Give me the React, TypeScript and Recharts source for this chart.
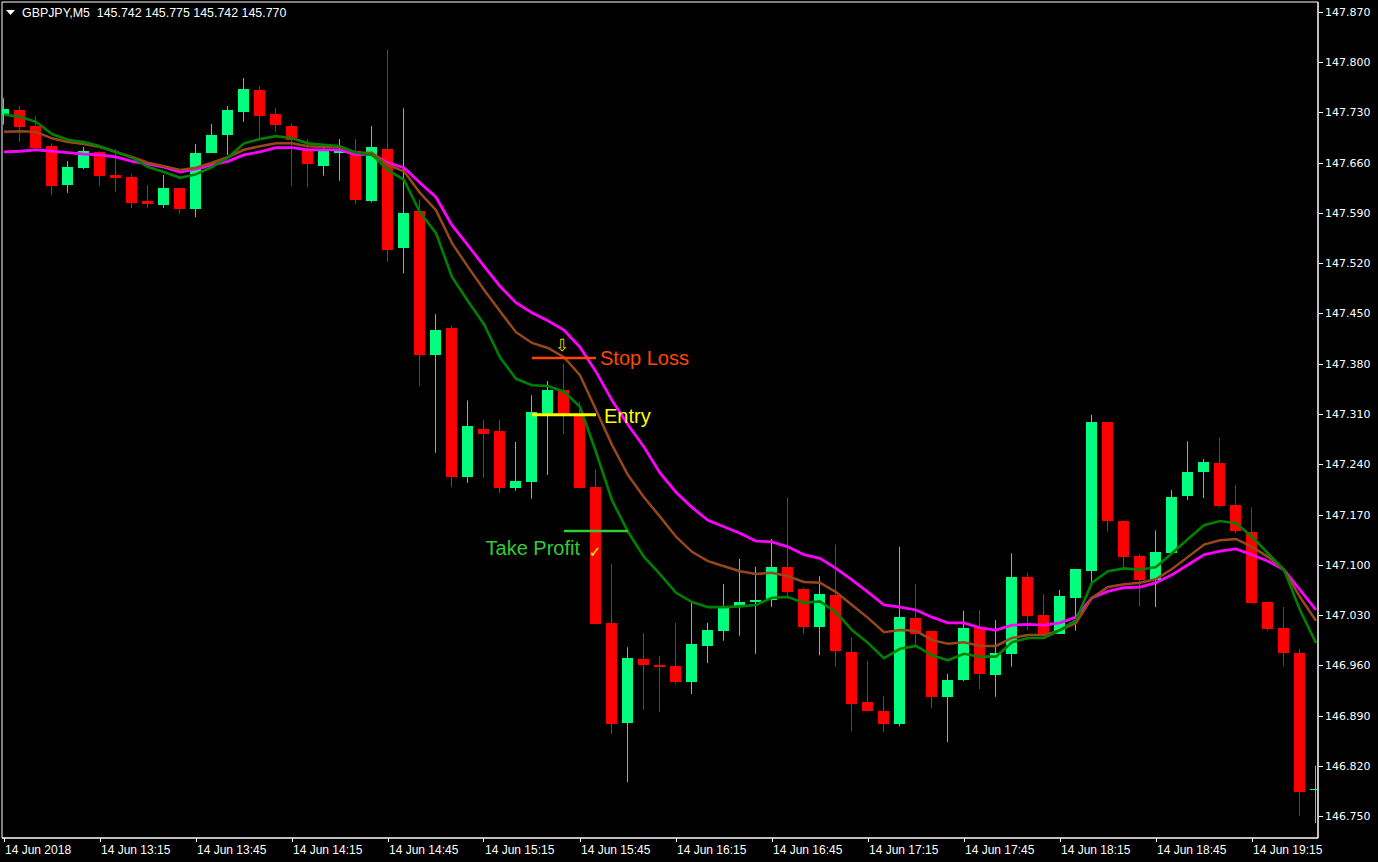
import React from "react";
import { ComposedChart, Bar, Line, XAxis, YAxis, ReferenceArea, ReferenceLine, ReferenceDot } from "recharts";

// M5 bars, 14 Jun 2018, starting 12:45
const opens = [
  147.727, 147.733, 147.711, 147.683, 147.629, 147.653, 147.675, 147.643, 147.640, 147.607,
  147.601, 147.625, 147.596, 147.674, 147.699, 147.731, 147.761, 147.728, 147.711, 147.679,
  147.655, 147.674, 147.676, 147.607, 147.679, 147.541, 147.593, 147.392, 147.430, 147.222,
  147.289, 147.286, 147.207, 147.215, 147.310, 147.343, 147.309, 147.208, 147.019, 146.880,
  146.969, 146.960, 146.959, 146.937, 146.987, 147.008, 147.041, 147.048, 147.051, 147.097,
  147.066, 147.013, 147.058, 146.978, 146.909, 146.896, 146.878, 147.026, 147.008, 146.916,
  146.939, 147.012, 146.946, 146.976, 147.083, 147.030, 147.004, 147.054, 147.091, 147.299,
  147.161, 147.112, 147.079, 147.116, 147.196, 147.229, 147.242, 147.183, 147.146, 147.048,
  147.012, 146.977, 146.786,
];
const highs = [
  147.750, 147.739, 147.725, 147.687, 147.662, 147.682, 147.676, 147.679, 147.644, 147.629,
  147.643, 147.625, 147.686, 147.714, 147.739, 147.778, 147.767, 147.736, 147.714, 147.693,
  147.681, 147.693, 147.693, 147.711, 147.818, 147.736, 147.609, 147.449, 147.433, 147.329,
  147.302, 147.302, 147.271, 147.336, 147.356, 147.380, 147.327, 147.233, 147.101, 146.985,
  147.005, 146.973, 147.019, 147.049, 147.019, 147.073, 147.108, 147.097, 147.136, 147.194,
  147.068, 147.084, 147.128, 146.999, 146.966, 146.917, 147.125, 147.073, 147.008, 146.948,
  147.036, 147.037, 147.023, 147.116, 147.089, 147.059, 147.065, 147.094, 147.309, 147.299,
  147.162, 147.115, 147.148, 147.204, 147.272, 147.247, 147.277, 147.211, 147.180, 147.048,
  147.041, 146.983, 146.820,
];
const lows = [
  147.713, 147.689, 147.681, 147.615, 147.618, 147.651, 147.628, 147.619, 147.597, 147.597,
  147.597, 147.589, 147.584, 147.674, 147.671, 147.717, 147.694, 147.703, 147.628, 147.626,
  147.642, 147.635, 147.602, 147.605, 147.522, 147.506, 147.349, 147.256, 147.208, 147.214,
  147.221, 147.200, 147.203, 147.192, 147.225, 147.282, 147.206, 147.017, 146.864, 146.797,
  146.898, 146.895, 146.934, 146.920, 146.963, 146.994, 147.001, 146.976, 147.041, 147.055,
  147.004, 146.974, 146.958, 146.868, 146.896, 146.867, 146.875, 146.987, 146.900, 146.853,
  146.938, 146.927, 146.916, 146.958, 147.009, 147.004, 147.004, 147.008, 147.076, 147.146,
  147.097, 147.042, 147.041, 147.116, 147.190, 147.193, 147.180, 147.144, 147.047, 147.008,
  146.959, 146.750, 146.740,
];
const closes = [
  147.735, 147.710, 147.681, 147.628, 147.654, 147.676, 147.642, 147.639, 147.604, 147.602,
  147.625, 147.596, 147.674, 147.699, 147.733, 147.763, 147.725, 147.713, 147.692, 147.658,
  147.676, 147.676, 147.608, 147.682, 147.538, 147.590, 147.392, 147.427, 147.222, 147.293,
  147.282, 147.207, 147.217, 147.313, 147.343, 147.310, 147.207, 147.017, 146.878, 146.970,
  146.960, 146.958, 146.937, 146.990, 147.009, 147.040, 147.048, 147.051, 147.097, 147.062,
  147.013, 147.059, 146.980, 146.906, 146.896, 146.878, 147.027, 147.004, 146.916, 146.939,
  147.012, 146.948, 146.977, 147.083, 147.029, 147.004, 147.056, 147.094, 147.299, 147.161,
  147.111, 147.079, 147.118, 147.194, 147.229, 147.243, 147.182, 147.147, 147.047, 147.011,
  146.977, 146.783, 146.788,
];

// moving averages
const maFast = [
  147.727, 147.724, 147.717, 147.700, 147.692, 147.689, 147.683, 147.675, 147.667, 147.654,
  147.647, 147.639, 147.644, 147.654, 147.667, 147.687, 147.693, 147.697, 147.694, 147.687,
  147.685, 147.683, 147.674, 147.671, 147.650, 147.636, 147.591, 147.562, 147.501, 147.467,
  147.435, 147.389, 147.359, 147.350, 147.349, 147.341, 147.320, 147.257, 147.190, 147.146,
  147.111, 147.087, 147.061, 147.048, 147.041, 147.041, 147.042, 147.044, 147.054, 147.055,
  147.047, 147.049, 147.034, 147.009, 146.991, 146.970, 146.983, 146.987, 146.974, 146.967,
  146.976, 146.972, 146.972, 146.992, 146.998, 146.998, 147.009, 147.023, 147.075, 147.091,
  147.095, 147.093, 147.097, 147.116, 147.136, 147.155, 147.161, 147.158, 147.139, 147.116,
  147.093, 147.037, 146.991,
];
const maMid = [
  147.703, 147.704, 147.703, 147.694, 147.689, 147.686, 147.682, 147.675, 147.668, 147.660,
  147.655, 147.650, 147.653, 147.660, 147.668, 147.678, 147.683, 147.687, 147.687, 147.683,
  147.682, 147.682, 147.674, 147.674, 147.657, 147.648, 147.618, 147.594, 147.548, 147.515,
  147.483, 147.453, 147.424, 147.409, 147.402, 147.389, 147.364, 147.316, 147.267, 147.225,
  147.194, 147.167, 147.139, 147.118, 147.105, 147.098, 147.091, 147.087, 147.089, 147.084,
  147.076, 147.075, 147.062, 147.044, 147.026, 147.006, 147.009, 147.008, 146.995, 146.990,
  146.992, 146.987, 146.987, 146.998, 147.002, 147.002, 147.009, 147.019, 147.054, 147.069,
  147.073, 147.075, 147.080, 147.094, 147.111, 147.128, 147.134, 147.136, 147.125, 147.111,
  147.093, 147.055, 147.022,
];
const maSlow = [
  147.675, 147.676, 147.678, 147.676, 147.674, 147.672, 147.671, 147.668, 147.662, 147.658,
  147.654, 147.647, 147.651, 147.657, 147.662, 147.671, 147.675, 147.681, 147.681, 147.678,
  147.678, 147.678, 147.671, 147.672, 147.660, 147.653, 147.632, 147.612, 147.573, 147.545,
  147.516, 147.488, 147.465, 147.451, 147.440, 147.427, 147.403, 147.369, 147.329, 147.295,
  147.264, 147.228, 147.201, 147.180, 147.162, 147.153, 147.144, 147.133, 147.132, 147.125,
  147.114, 147.109, 147.095, 147.079, 147.062, 147.044, 147.041, 147.037, 147.027, 147.019,
  147.019, 147.012, 147.009, 147.016, 147.017, 147.016, 147.019, 147.027, 147.054, 147.063,
  147.068, 147.069, 147.075, 147.086, 147.100, 147.114, 147.119, 147.122, 147.114, 147.105,
  147.093, 147.065, 147.037,
];

const timeLabels = [
  "14 Jun 2018", "14 Jun 13:15", "14 Jun 13:45", "14 Jun 14:15", "14 Jun 14:45",
  "14 Jun 15:15", "14 Jun 15:45", "14 Jun 16:15", "14 Jun 16:45", "14 Jun 17:15",
  "14 Jun 17:45", "14 Jun 18:15", "14 Jun 18:45", "14 Jun 19:15",
];
const labelBars = [0, 6, 12, 18, 24, 30, 36, 42, 48, 54, 60, 66, 72, 78];

const priceTicks = [
  147.87, 147.8, 147.73, 147.66, 147.59, 147.52, 147.45, 147.38, 147.31,
  147.24, 147.17, 147.1, 147.03, 146.96, 146.89, 146.82, 146.75,
];

const priceMin = 146.7194;
const priceMax = 147.8839;
const barMin = -0.125;
const barMax = 82.125;

// trade annotation
const stopLoss = 147.388;
const entryPrice = 147.309;
const takeProfit = 147.147;
const tradeFrom = 33;
const tradeTo = 37;
const tpFrom = 35;
const tpTo = 39;
const signalBar = 35;

const data = opens.map((o, i) => ({
  i,
  open: o,
  high: highs[i],
  low: lows[i],
  close: closes[i],
  range: [lows[i], highs[i]],
  fast: maFast[i],
  mid: maMid[i],
  slow: maSlow[i],
}));

function Candle(props: any) {
  const { x, y, width, height } = props;
  const d = props.payload ?? props;
  if (x == null || d == null || d.high == null) return null;
  const top = Math.min(y, y + height);
  const h = Math.abs(height);
  const span = d.high - d.low || 1;
  const toY = (p: number) => top + ((d.high - p) / span) * h;
  const up = d.close >= d.open;
  const color = up ? "#00FF7F" : "#FF0000";
  const mid = x + width / 2;
  const wx = Math.floor(mid) + 0.5;
  const bTop = Math.round(toY(Math.max(d.open, d.close)));
  const bBot = Math.round(toY(Math.min(d.open, d.close)));
  return (
    <g>
      <line x1={wx} x2={wx} y1={top} y2={top + h} stroke={color} strokeWidth={1} />
      <rect x={Math.round(mid - 5.5)} y={bTop} width={11} height={Math.max(1, bBot - bTop)} fill={color} />
    </g>
  );
}

function TimeTick(props: any) {
  const { x, y, payload } = props;
  const idx = labelBars.indexOf(payload.value);
  return (
    <g>
      <line x1={Math.floor(x) + 0.5} x2={Math.floor(x) + 0.5} y1={y} y2={y + 4} stroke="#fff" />
      <text x={x + 1} y={y + 16} fill="#fff" fontSize={12} fontFamily="Liberation Sans">
        {idx >= 0 ? timeLabels[idx] : ""}
      </text>
    </g>
  );
}

function PriceTick(props: any) {
  const { x, y, payload } = props;
  return (
    <g>
      <line x1={x + 1} x2={x + 5} y1={Math.round(y) + 0.5} y2={Math.round(y) + 0.5} stroke="#fff" />
      <text x={x + 7} y={y + 4} fill="#fff" fontSize={11} fontFamily="DejaVu Sans">
        {Number(payload.value).toFixed(3)}
      </text>
    </g>
  );
}

export default function App() {
  return (
    <div style={{ position: "absolute", left: 0, top: 0, width: 1378, height: 862, background: "#000" }}>
      <style>{"body{margin:0;background:#000}"}</style>
      <ComposedChart
        width={1378}
        height={862}
        data={data}
        margin={{ top: 2, right: 0, bottom: 0, left: 2 }}
      >
        <XAxis
          dataKey="i"
          type="number"
          domain={[barMin, barMax]}
          allowDataOverflow
          ticks={labelBars}
          interval={0}
          height={24}
          tickSize={0}
          tickMargin={0}
          tickLine={false}
          axisLine={{ stroke: "#fff" }}
          tick={<TimeTick />}
        />
        <YAxis
          orientation="right"
          width={60}
          domain={[priceMin, priceMax]}
          allowDataOverflow
          ticks={priceTicks}
          interval={0}
          tickSize={0}
          tickMargin={0}
          tickLine={false}
          axisLine={{ stroke: "#fff" }}
          tick={<PriceTick />}
        />
        <ReferenceArea
          x1={barMin}
          x2={barMax}
          y1={priceMin}
          y2={priceMax}
          fill="none"
          stroke="#fff"
          strokeWidth={1}
          fillOpacity={0}
        />
        <Bar dataKey="range" barSize={11} shape={<Candle />} isAnimationActive={false} />
        <Line type="linear" dataKey="slow" stroke="#FF00FF" strokeWidth={2.8} dot={false} activeDot={false} isAnimationActive={false} />
        <Line type="linear" dataKey="mid" stroke="#96481C" strokeWidth={2.5} dot={false} activeDot={false} isAnimationActive={false} />
        <Line type="linear" dataKey="fast" stroke="#008000" strokeWidth={2.6} dot={false} activeDot={false} isAnimationActive={false} />

        <ReferenceLine
          segment={[{ x: tradeFrom, y: stopLoss }, { x: tradeTo, y: stopLoss }]}
          stroke="#FF4500"
          strokeWidth={2.5}
        />
        <ReferenceLine
          segment={[{ x: tradeFrom, y: entryPrice }, { x: tradeTo, y: entryPrice }]}
          stroke="#FFFF00"
          strokeWidth={3}
        />
        <ReferenceLine
          segment={[{ x: tpFrom, y: takeProfit }, { x: tpTo, y: takeProfit }]}
          stroke="#32CD32"
          strokeWidth={2.5}
        />
        <ReferenceDot
          x={tradeTo}
          y={stopLoss}
          r={0}
          shape={(p: any) => (
            <text x={p.cx + 4} y={p.cy + 7} fill="#FF4500" fontSize={20} fontFamily="Liberation Sans">
              Stop Loss
            </text>
          )}
        />
        <ReferenceDot
          x={signalBar}
          y={stopLoss}
          r={0}
          shape={(p: any) => (
            <text x={p.cx - 2} y={p.cy - 7} fill="#E6D200" fontSize={17} fontFamily="DejaVu Sans" textAnchor="middle">
              ⇩
            </text>
          )}
        />
        <ReferenceDot
          x={tradeTo}
          y={entryPrice}
          r={0}
          shape={(p: any) => (
            <text x={p.cx + 8} y={p.cy + 8} fill="#FFFF00" fontSize={20} fontFamily="Liberation Sans">
              Entry
            </text>
          )}
        />
        <ReferenceDot
          x={tradeTo}
          y={takeProfit}
          r={0}
          shape={(p: any) => (
            <g>
              <text x={p.cx - 16} y={p.cy + 24} fill="#32CD32" fontSize={20} fontFamily="Liberation Sans" textAnchor="end">
                Take Profit
              </text>
              <text x={p.cx - 1} y={p.cy + 26} fill="#FFFF00" fontSize={15} fontFamily="DejaVu Sans" textAnchor="middle">
                ✓
              </text>
            </g>
          )}
        />
      </ComposedChart>
      <svg width={320} height={22} style={{ position: "absolute", left: 0, top: 0 }}>
        <polygon points="6,10 15,10 10.5,15" fill="#fff" />
        <text x={22} y={16.5} fill="#fff" fontSize={12.4} fontFamily="Liberation Sans" style={{ whiteSpace: "pre" }}>
          {"GBPJPY,M5  145.742 145.775 145.742 145.770"}
        </text>
      </svg>
    </div>
  );
}
